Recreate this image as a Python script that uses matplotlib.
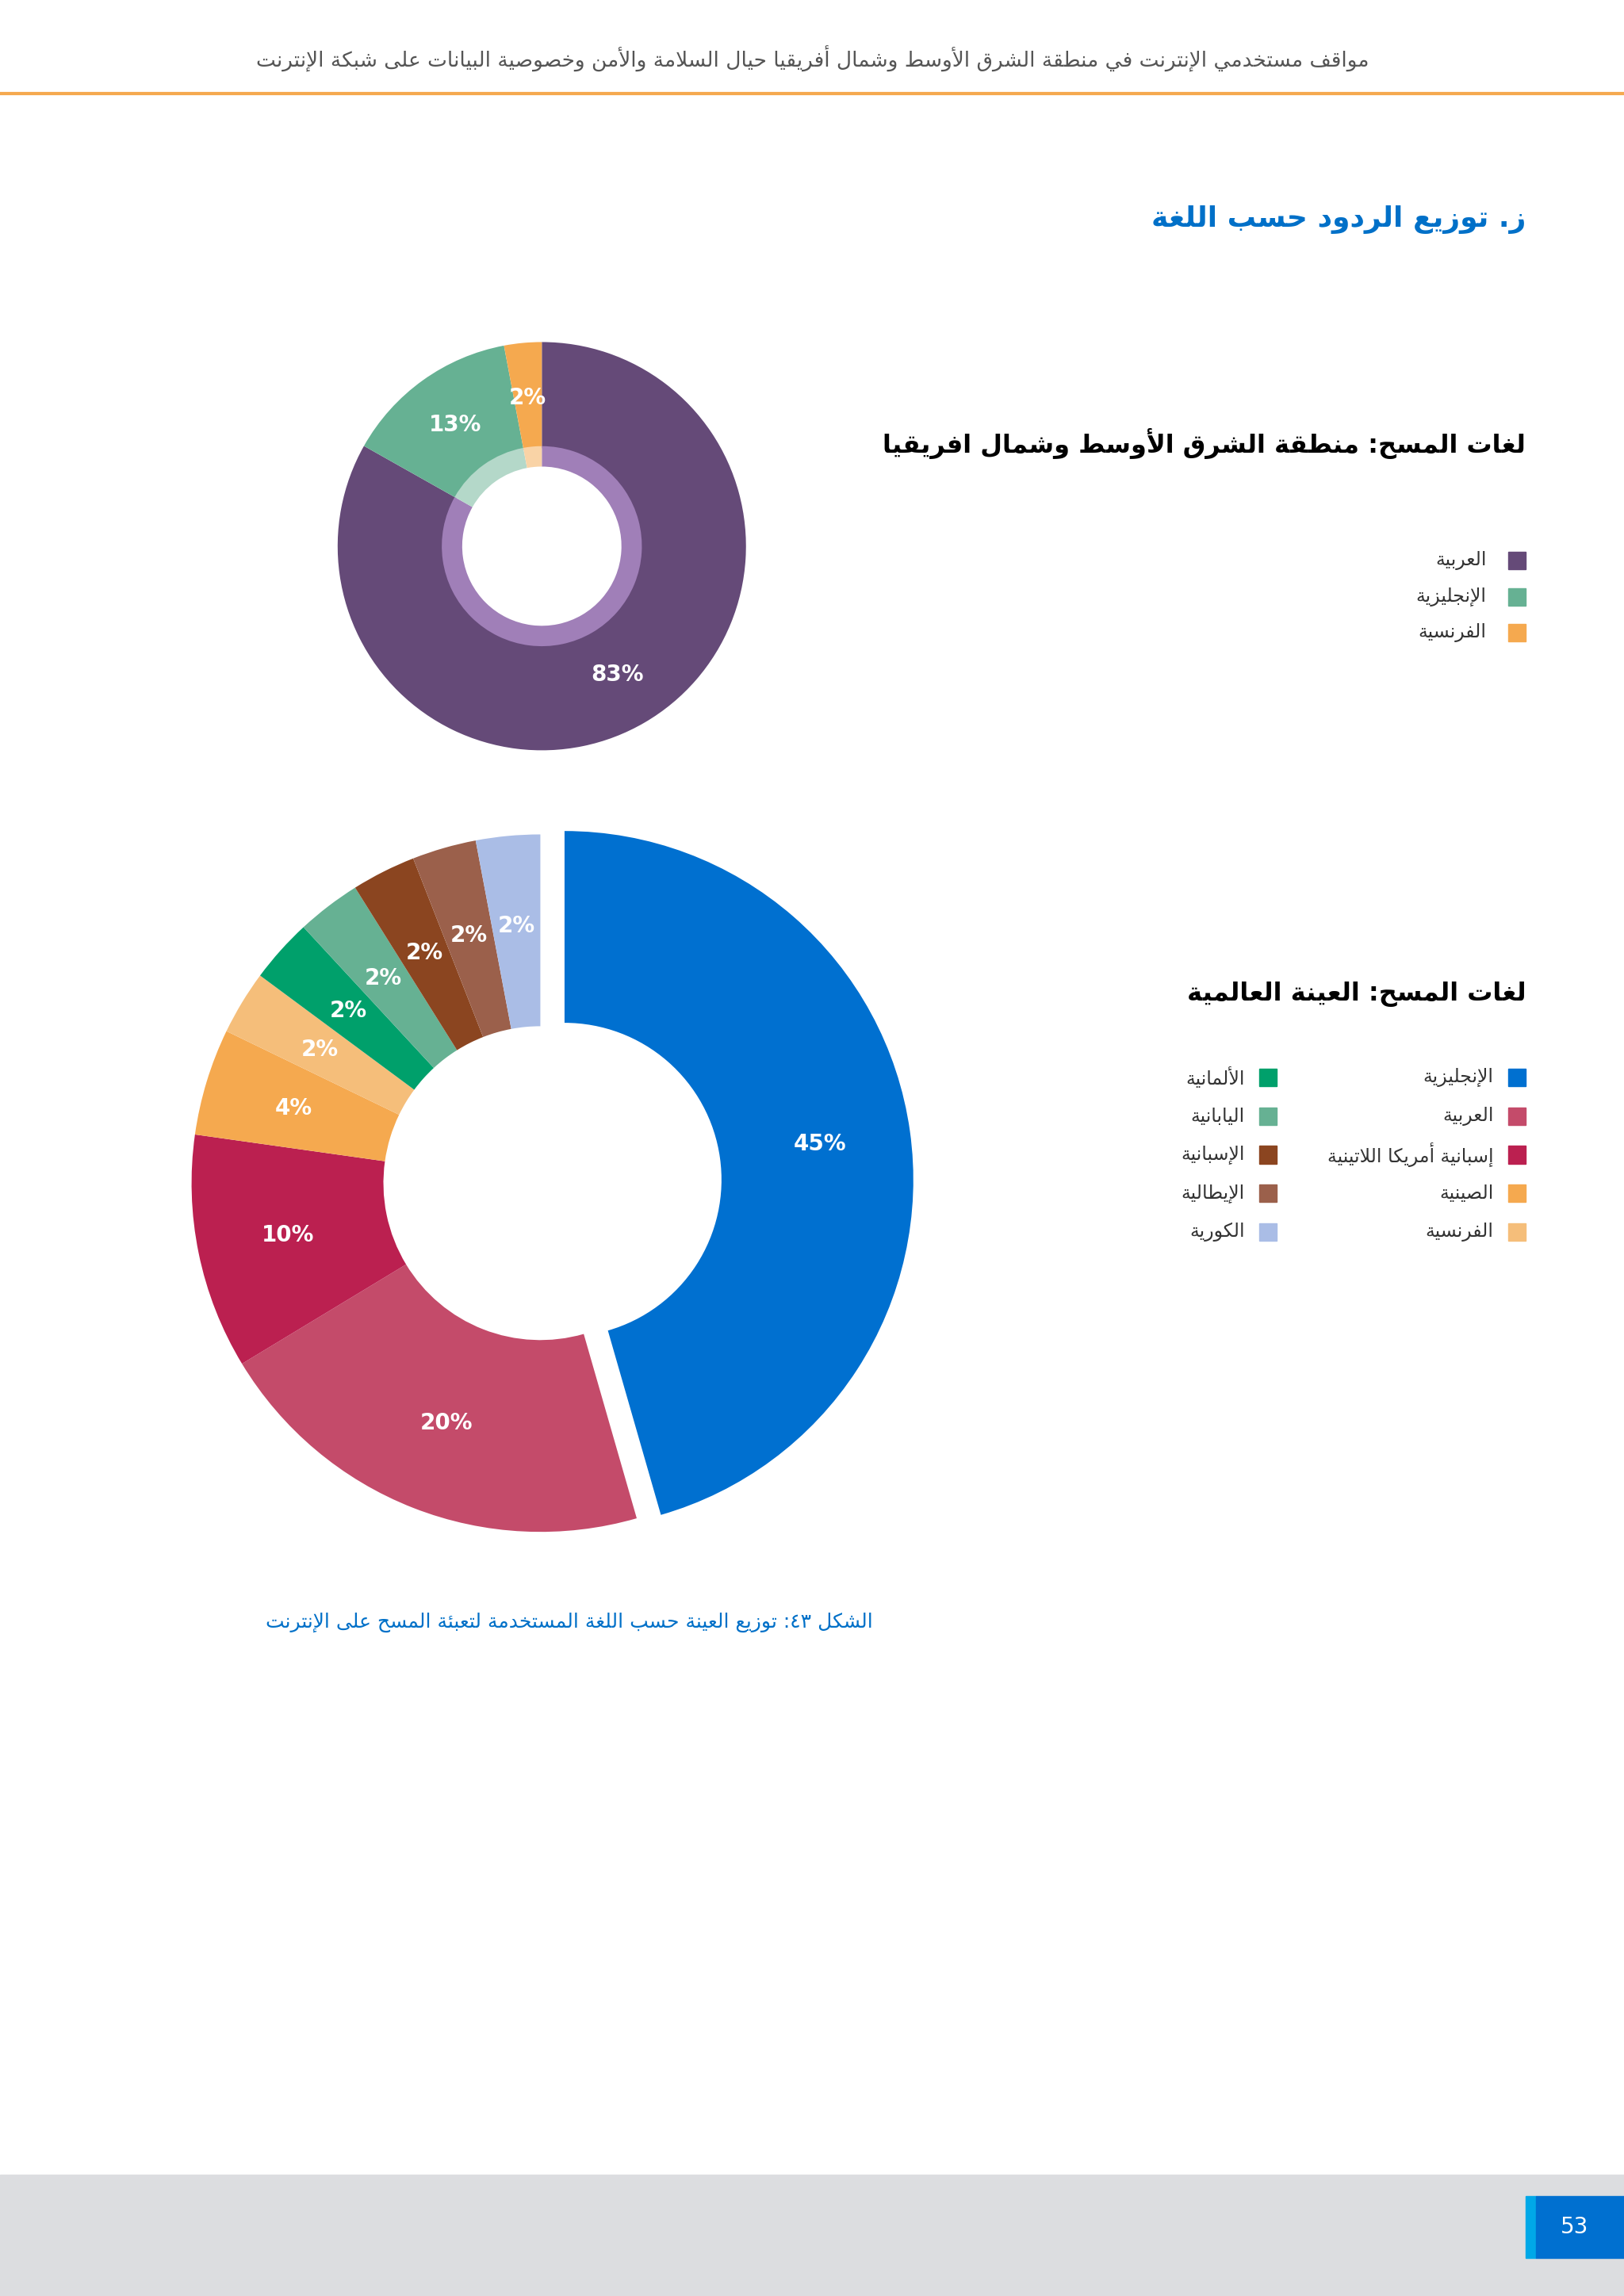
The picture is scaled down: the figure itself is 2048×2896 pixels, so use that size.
import re
import matplotlib
matplotlib.use("Agg")
import matplotlib.pyplot as plt
from matplotlib.patches import Rectangle

plt.rcParams['font.family'] = ['DejaVu Sans']

# ---- minimal Arabic shaping (matplotlib has no bidi / shaping) ----
_letters = "ءآأؤإئابةتثجحخدذرزسشصضطظعغفقكلمنهوىي"
_counts = [1, 2, 2, 2, 2, 4, 2, 4, 2, 4, 4, 4, 4, 4, 2, 2, 2, 2, 4, 4, 4, 4,
           4, 4, 4, 4, 4, 4, 4, 4, 4, 4, 4, 2, 2, 4]
FORMS = {}
_c = 0xFE80
for _l, _n in zip(_letters, _counts):
    FORMS[_l] = (_c, _n)
    _c += _n
LAMALEF = {'آ': 0xFEF5, 'أ': 0xFEF7, 'إ': 0xFEF9, 'ا': 0xFEFB}


def shape(text):
    out = []
    i = 0
    prev_dual = False
    while i < len(text):
        ch = text[i]
        if ch not in FORMS:
            out.append(ch)
            prev_dual = False
            i += 1
            continue
        base, n = FORMS[ch]
        jp = prev_dual and n >= 2
        if ch == 'ل' and i + 1 < len(text) and text[i + 1] in LAMALEF:
            out.append(chr(LAMALEF[text[i + 1]] + (1 if jp else 0)))
            prev_dual = False
            i += 2
            continue
        nxt = text[i + 1] if i + 1 < len(text) else ''
        jn = n == 4 and nxt in FORMS and FORMS[nxt][1] >= 2
        if jp and jn:
            off = 3
        elif jp:
            off = 1
        elif jn:
            off = 2
        else:
            off = 0
        if n == 1:
            off = 0
        out.append(chr(base + off))
        prev_dual = n == 4
        i += 1
    return ''.join(out)


def ar(text):
    s = shape(text)
    parts = re.findall(r'[0-9\u0660-\u0669%]+|[^0-9\u0660-\u0669%]+', s)
    res = []
    for p in reversed(parts):
        if re.match(r'[0-9\u0660-\u0669%]', p):
            res.append(p)
        else:
            res.append(p[::-1])
    return ''.join(res)


# ---- data ----
header = "مواقف مستخدمي الإنترنت في منطقة الشرق الأوسط وشمال أفريقيا حيال السلامة والأمن وخصوصية البيانات على شبكة الإنترنت"
section_title = "ز. توزيع الردود حسب اللغة"
mena_title = "لغات المسح: منطقة الشرق الأوسط وشمال افريقيا"
global_title = "لغات المسح: العينة العالمية"
caption = "الشكل ٤٣: توزيع العينة حسب اللغة المستخدمة لتعبئة المسح على الإنترنت"
page_number = "53"

mena_labels = ["العربية", "الإنجليزية", "الفرنسية"]
mena_values = [84, 14, 3]
mena_colors = ["#654a78", "#66b193", "#f5a94f"]
mena_inner = ["#a07fb8", "#b4d8c9", "#f9d3a6"]

global_labels = ["الإنجليزية", "العربية", "إسبانية أمريكا اللاتينية", "الصينية", "الفرنسية",
                 "الألمانية", "اليابانية", "الإسبانية", "الإيطالية", "الكورية"]
global_values = [46, 21, 11, 5, 3, 3, 3, 3, 3, 3]
global_colors = ["#0070d0", "#c44b6a", "#bb2050", "#f5a94f", "#f5be7a",
                 "#00a06b", "#66b193", "#8b4520", "#9b604b", "#aabde6"]

W, H = 1109, 1568  # layout units
fig = plt.figure(figsize=(20.48, 28.96), dpi=100)
page = fig.add_axes([0, 0, 1, 1])
page.set_xlim(0, W)
page.set_ylim(H, 0)
page.axis('off')

def fx(x):
    return x / W

def fy(y):
    return 1 - y / H

# header
page.text(555, 40, ar(header), ha='center', va='center', fontsize=19, color='#555555')
page.plot([0, W], [64, 64], color='#f5a94f', lw=3)
page.text(1042, 150, ar(section_title), ha='right', va='center', fontsize=26,
          fontweight='bold', color='#0070c8')

# top donut
def donut_axes(cx, cy, r):
    a = fig.add_axes([fx(cx - r), fy(cy + r), fx(2 * r), (2 * r) / H])
    a.set_aspect('equal')
    return a

ax1 = donut_axes(370, 373, 145)
ax1.pie(mena_values, colors=mena_colors, startangle=90, counterclock=False, radius=1.0,
        autopct='%d%%', pctdistance=0.73,
        textprops=dict(color='white', fontsize=20, fontweight='bold'),
        wedgeprops=dict(width=0.52))
ax1.pie(mena_values, colors=mena_inner, startangle=90, counterclock=False, radius=0.49,
        wedgeprops=dict(width=0.1))
ax1.set_xlim(-1.04, 1.04)
ax1.set_ylim(-1.04, 1.04)

page.text(1042, 303, ar(mena_title), ha='right', va='center', fontsize=23,
          fontweight='bold', color='black')
for k, lab in enumerate(mena_labels):
    y = 383 + k * 24.5
    page.add_patch(Rectangle((1030, y - 6), 12, 12, color=mena_colors[k]))
    page.text(1015, y, ar(lab), ha='right', va='center', fontsize=17, color='#333333')

# bottom donut
ax2 = donut_axes(369, 808, 262)
explode = [0.07] + [0] * (len(global_values) - 1)
ax2.pie(global_values, colors=global_colors, startangle=90, counterclock=False,
        explode=explode, autopct='%d%%', pctdistance=0.74,
        textprops=dict(color='white', fontsize=20, fontweight='bold'),
        wedgeprops=dict(width=0.55))
ax2.set_xlim(-1.1, 1.1)
ax2.set_ylim(-1.1, 1.1)

page.text(1042, 679, ar(global_title), ha='right', va='center', fontsize=23,
          fontweight='bold', color='black')
for k, lab in enumerate(global_labels):
    col = k // 5
    row = k % 5
    y = 736 + row * 26.3
    sx = 1030 if col == 0 else 860
    page.add_patch(Rectangle((sx, y - 6), 12, 12, color=global_colors[k]))
    page.text(sx - 10, y, ar(lab), ha='right', va='center', fontsize=17, color='#333333')

page.text(596, 1108, ar(caption), ha='right', va='center', fontsize=18, color='#0070c8')

# footer
page.add_patch(Rectangle((0, 1485), W, 83, color='#dcdde0'))
page.add_patch(Rectangle((1042, 1500), 7, 42, color='#00a8e8'))
page.add_patch(Rectangle((1049, 1500), 60, 42, color='#0070d0'))
page.text(1075, 1521, page_number, ha='center', va='center', fontsize=20, color='white')

fig.savefig("out.png", dpi=100)
